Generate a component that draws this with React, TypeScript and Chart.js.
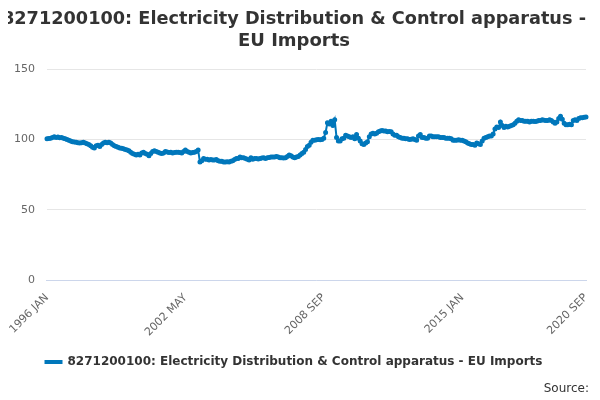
import React, { useEffect, useRef } from "react";
import { Chart, registerables } from "chart.js";
Chart.register(...registerables);

const MONTHS = ["JAN","FEB","MAR","APR","MAY","JUN","JUL","AUG","SEP","OCT","NOV","DEC"];
const START_YEAR = 1996;
const SERIES_LABEL = "8271200100: Electricity Distribution & Control apparatus - EU Imports";
const TICK_LABELS = ["1996 JAN", "2002 MAY", "2008 SEP", "2015 JAN", "2020 SEP"];

const v1996 = [100.5,100.8,101.0,101.5,102.0,101.5,101.8,101.2,101.5,101.0,100.5,100.0];
const v1997 = [99.5,99.0,98.5,98.2,98.0,97.8,97.5,97.8,98.0,97.5,97.0,96.5];
const v1998 = [95.5,94.5,94.0,95.5,96.0,95.0,96.5,97.5,98.0,97.8,98.0,97.5];
const v1999 = [96.5,95.5,95.0,94.5,94.0,93.8,93.5,93.0,92.5,92.0,91.0,90.0];
const v2000 = [89.5,89.0,89.5,89.0,90.5,91.0,90.0,89.5,88.5,90.0,91.5,92.0];
const v2001 = [91.5,91.0,90.5,90.0,90.5,91.5,91.2,90.8,91.0,90.5,90.8,91.0];
const v2002 = [91.0,90.8,90.5,91.5,92.5,91.5,91.0,90.5,90.8,91.0,91.5,92.5];
const v2003 = [84.0,85.0,86.5,86.0,86.0,85.5,85.8,85.5,85.5,85.8,85.0,84.5];
const v2004 = [84.5,84.0,84.0,84.2,84.0,84.5,85.0,85.8,86.5,86.5,87.5,87.0];
const v2005 = [87.0,86.5,86.0,85.5,87.0,86.0,86.5,86.5,86.2,86.5,86.8,87.0];
const v2006 = [86.5,87.0,87.2,87.5,87.5,87.5,88.0,87.5,87.0,87.0,86.8,87.0];
const v2007 = [88.0,89.0,88.5,87.5,87.0,87.5,88.0,89.0,90.0,91.0,93.0,95.0];
const v2008 = [96.0,98.0,99.5,99.5,99.8,100.0,99.8,100.0,101.0,105.0,112.0,111.0];
const v2009 = [113.0,110.0,114.0,101.5,99.0,99.0,100.5,101.0,103.0,102.5,102.0,101.5];
const v2010 = [102.0,100.5,103.5,101.0,99.0,97.0,96.5,97.5,98.5,102.0,104.0,104.5];
const v2011 = [104.0,104.5,105.5,106.0,106.5,106.0,106.0,105.5,105.8,105.5,104.0,103.0];
const v2012 = [103.0,102.0,101.5,101.0,101.0,100.5,100.5,100.0,100.2,100.5,100.0,99.5];
const v2013 = [102.5,103.5,101.5,101.5,101.0,101.0,102.5,102.5,102.0,102.0,102.0,102.0];
const v2014 = [101.5,101.5,101.5,101.0,101.0,101.0,100.5,99.5,99.5,99.5,99.8,99.5];
const v2015 = [99.5,99.0,98.5,97.5,97.0,96.5,96.5,96.0,97.5,97.0,96.5,99.0];
const v2016 = [101.0,101.5,102.0,102.5,102.5,104.0,107.5,109.0,108.5,112.5,110.0,108.5];
const v2017 = [109.5,109.0,109.5,110.0,110.5,111.5,113.0,114.0,113.5,113.5,113.0,113.0];
const v2018 = [113.0,112.5,113.0,113.0,112.8,113.0,113.5,113.5,114.0,113.8,113.5,113.5];
const v2019 = [114.0,113.5,112.5,111.5,112.5,115.0,116.5,114.5,111.5,110.5,110.5,110.8];
const v2020 = [110.5,113.5,114.0,113.5,115.0,115.5,115.5,115.8,116.0];

const VALUES = [...v1996,...v1997,...v1998,...v1999,...v2000,...v2001,...v2002,...v2003,...v2004,...v2005,...v2006,...v2007,...v2008,...v2009,...v2010,...v2011,...v2012,...v2013,...v2014,...v2015,...v2016,...v2017,...v2018,...v2019,...v2020];
const LABELS = VALUES.map((_, i) => `${START_YEAR + Math.floor(i / 12)} ${MONTHS[i % 12]}`);

export default function App() {
  const ref = useRef<HTMLCanvasElement>(null);
  useEffect(() => {
    const font = "'DejaVu Sans', sans-serif";
    const chart = new Chart(ref.current!, {
      type: "line",
      data: {
        labels: LABELS,
        datasets: [{
          label: SERIES_LABEL,
          data: VALUES,
          borderColor: "#0077bb",
          backgroundColor: "#0077bb",
          borderWidth: 2,
          pointRadius: 1.5,
          pointHoverRadius: 2,
          tension: 0,
        }],
      },
      options: {
        animation: false,
        responsive: false,
        layout: { padding: { left: 2, right: 14, top: 0, bottom: 12 } },
        plugins: {
          title: {
            display: true,
            text: ["8271200100: Electricity Distribution & Control apparatus -", "EU Imports"],
            font: { family: font, size: 18, weight: "bold", lineHeight: 1.2 },
            color: "#333",
            padding: { top: 9, bottom: 17 },
          },
          legend: {
            position: "bottom",
            labels: { font: { family: font, size: 12, weight: "bold" }, color: "#333", boxWidth: 16, boxHeight: 2, padding: 14 },
          },
          tooltip: { enabled: false },
        },
        scales: {
          x: {
            grid: { display: false },
            border: { color: "#ccd6eb" },
            ticks: {
              autoSkip: false,
              maxRotation: 45, minRotation: 45,
              font: { family: font, size: 11 }, color: "#666",
              callback: (_v, i) => (TICK_LABELS.includes(LABELS[i]) ? LABELS[i] : null),
            },
          },
          y: {
            min: 0, max: 150,
            ticks: { stepSize: 50, font: { family: font, size: 11 }, color: "#666", padding: 12 },
            grid: { color: "#e6e6e6", drawTicks: false },
            border: { display: false },
          },
        },
      },
    });
    return () => chart.destroy();
  }, []);
  return (
    <div style={{ position: "relative", width: 600, height: 400, margin: -8 }}>
      <canvas ref={ref} width={600} height={390} />
      <div style={{ position: "absolute", right: 11, top: 381, font: "12px 'DejaVu Sans', sans-serif", color: "#333" }}>Source:</div>
    </div>
  );
}
